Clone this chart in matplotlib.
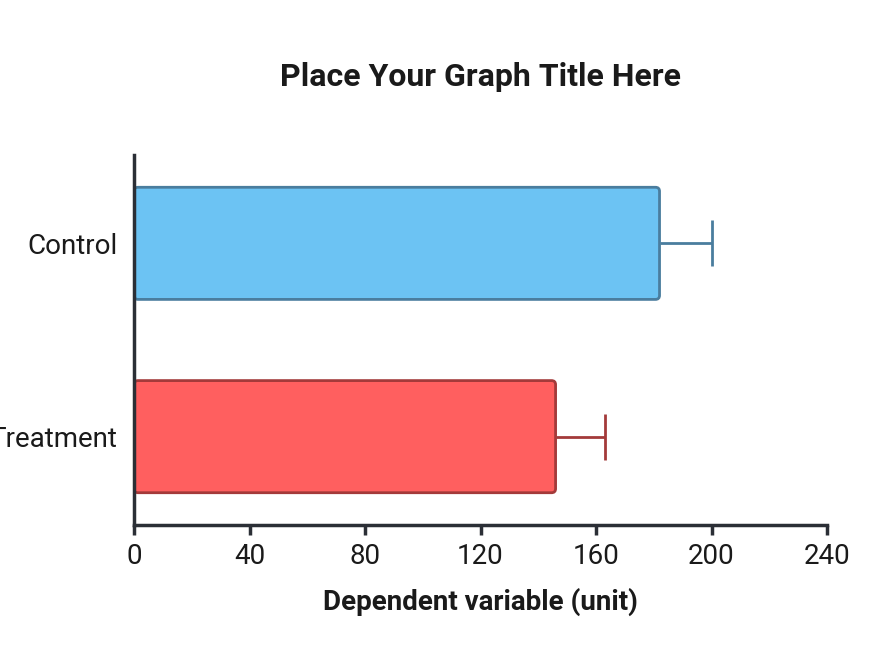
import matplotlib
matplotlib.use("Agg")
import matplotlib.pyplot as plt
from matplotlib.patches import FancyBboxPatch

categories = ["Control", "Treatment"]
values = [182, 146]
errors = [18, 17]
fill_colors = ["#6CC3F3", "#FF5F5F"]
edge_colors = ["#4A7D9E", "#A33A3A"]
xticks = [0, 40, 80, 120, 160, 200, 240]

plt.rcParams['font.family'] = ['Roboto', 'DejaVu Sans']
fig = plt.figure(figsize=(8.8, 6.6), dpi=100)
ax = fig.add_axes([134/880, 1-525/660, (827-134)/880, (525-155)/660])

ypos = [0, 1]
bars = ax.barh(ypos, values, height=0.58, color=fill_colors, edgecolor=edge_colors, linewidth=0)
for b, fc, ec in zip(bars, fill_colors, edge_colors):
    b.set_visible(False)
    x0, y0, w, h = b.get_x(), b.get_y(), b.get_width(), b.get_height()
    p = FancyBboxPatch((x0, y0), w, h, boxstyle="round,pad=0,rounding_size=1.4",
                       mutation_aspect=0.0149, facecolor=fc, edgecolor=ec, linewidth=2, zorder=2)
    ax.add_patch(p)
for y, v, e, ec in zip(ypos, values, errors, edge_colors):
    cont = ax.errorbar(v, y, xerr=[[0], [e]], fmt='none', ecolor=ec, elinewidth=2,
                       capsize=16.5, capthick=2, zorder=1)
    for cl in cont.lines[1]:
        xd, yd = cl.get_data()
        if abs(float(xd[0]) - v) < 1e-9:
            cl.set_visible(False)

ax.set_xlim(0, 240)
ax.set_ylim(1.457, -0.457)
ax.set_xticks(xticks)
ax.set_xticklabels([str(t) for t in xticks])
ax.set_yticks(ypos)
ax.set_yticklabels(categories)

spine_color = "#2B2F36"
for s in ["top", "right"]:
    ax.spines[s].set_visible(False)
for s in ["left", "bottom"]:
    ax.spines[s].set_color(spine_color)
    ax.spines[s].set_linewidth(2.5)
ax.tick_params(axis='x', direction='out', length=7, width=2.5, color=spine_color, labelsize=20, labelcolor="#1a1a1a", pad=6)
ax.tick_params(axis='y', length=0, labelsize=20, labelcolor="#1a1a1a", pad=12)

ax.set_xlabel("Dependent variable (unit)", fontsize=20, fontweight='bold', color="#1a1a1a", labelpad=13)
fig.text(480/880, 1-77/660, "Place Your Graph Title Here", ha='center', va='center',
         fontsize=23, fontweight='bold', color="#1a1a1a")

fig.savefig("out.png", dpi=100, facecolor="white")
